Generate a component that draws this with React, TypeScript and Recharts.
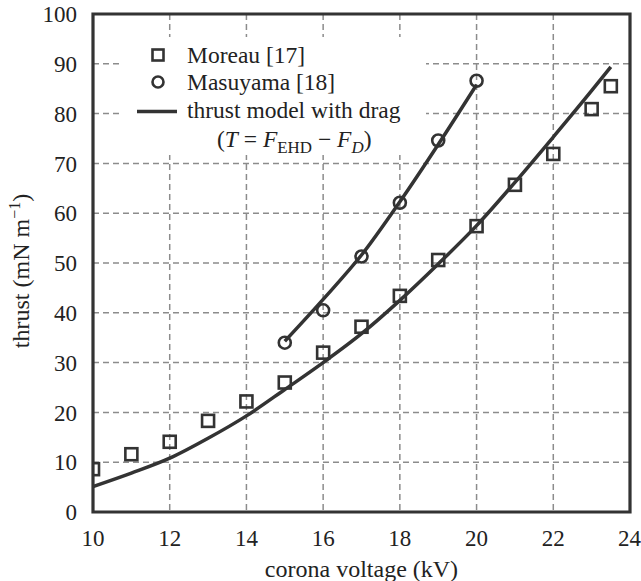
import React from 'react';
import {
  ComposedChart,
  Line,
  Scatter,
  XAxis,
  YAxis,
  CartesianGrid,
  ReferenceArea,
  Legend,
} from 'recharts';

// Moreau [17] measurements
const moreauKV = [10, 11, 12, 13, 14, 15, 16, 17, 18, 19, 20, 21, 22, 23, 23.5];
const moreauThrust = [8.6, 11.6, 14.1, 18.3, 22.2, 26.0, 32.0, 37.2, 43.4, 50.6, 57.4, 65.7, 71.9, 80.9, 85.5];

// Masuyama [18] measurements
const masuyamaKV = [15, 16, 17, 18, 19, 20];
const masuyamaThrust = [34.0, 40.5, 51.3, 62.1, 74.6, 86.6];

// thrust model with drag, fitted to each data set
const modelLowKV = [10, 11, 12, 13, 14, 15, 16, 17, 18, 19, 20, 21, 22, 23, 23.5];
const modelLowThrust = [5.1, 7.8, 10.8, 14.8, 19.3, 24.6, 30.0, 35.8, 42.5, 49.8, 57.5, 66.2, 75.3, 84.6, 89.4];
const modelHighKV = [15, 16, 17, 18, 19, 20];
const modelHighThrust = [34.3, 42.7, 51.6, 62.3, 73.8, 85.8];

const xTicks = [10, 12, 14, 16, 18, 20, 22, 24];
const yTicks = [0, 10, 20, 30, 40, 50, 60, 70, 80, 90, 100];

const zip = (xs: number[], ys: number[]) => xs.map((v, i) => ({ v, t: ys[i] }));

const FONT = '"Liberation Serif", "Times New Roman", serif';
const INK = '#333';

const SquareDot = (props: any) => {
  const { cx, cy } = props;
  if (cx == null || cy == null) return null;
  return <rect x={cx - 6} y={cy - 6} width={12} height={12} fill="none" stroke={INK} strokeWidth={2.6} />;
};

const CircleDot = (props: any) => {
  const { cx, cy } = props;
  if (cx == null || cy == null) return null;
  return <circle cx={cx} cy={cy} r={6} fill="none" stroke={INK} strokeWidth={2.6} />;
};

const LegendBox = () => (
  <div
    style={{
      position: 'relative',
      width: 303,
      height: 118,
      background: '#fff',
      fontFamily: FONT,
      fontSize: 23.5,
      color: '#222',
      lineHeight: '26px',
    }}
  >
    <svg width={303} height={118} style={{ position: 'absolute', left: 0, top: 0 }}>
      <rect x={29.5} y={12.5} width={11} height={11} fill="none" stroke={INK} strokeWidth={2.6} />
      <circle cx={35} cy={45} r={5.5} fill="none" stroke={INK} strokeWidth={2.6} />
      <line x1={14} x2={54} y1={74.5} y2={74.5} stroke={INK} strokeWidth={3.5} />
    </svg>
    <div style={{ position: 'absolute', left: 64, top: 5, whiteSpace: 'nowrap' }}>Moreau [17]</div>
    <div style={{ position: 'absolute', left: 64, top: 32, whiteSpace: 'nowrap' }}>Masuyama [18]</div>
    <div style={{ position: 'absolute', left: 64, top: 60, whiteSpace: 'nowrap' }}>thrust model with drag</div>
    <div style={{ position: 'absolute', left: 94, top: 89, whiteSpace: 'nowrap' }}>
      (<i>T</i> = <i>F</i>
      <sub style={{ fontSize: '0.72em', verticalAlign: '-0.35em' }}>EHD</sub> − <i>F</i>
      <sub style={{ fontSize: '0.72em', verticalAlign: '-0.35em' }}>
        <i>D</i>
      </sub>
      )
    </div>
  </div>
);

const YLabel = () => (
  <text
    transform="translate(29, 271) rotate(-90)"
    textAnchor="middle"
    fontFamily={FONT}
    fontSize={24}
    fill="#222"
  >
    thrust (mN m
    <tspan fontSize={16} dy={-9}>−1</tspan>
    <tspan dy={9}>)</tspan>
  </text>
);

const XLabel = (props: any) => {
  const { viewBox } = props;
  return (
    <text
      x={viewBox.x + viewBox.width / 2}
      y={viewBox.y + 65}
      textAnchor="middle"
      fontFamily={FONT}
      fontSize={24}
      fill="#222"
    >
      corona voltage (kV)
    </text>
  );
};

export default function App() {
  const tickStyle = { fontFamily: FONT, fontSize: 23, fill: '#222' };
  return (
    <div style={{ position: 'absolute', left: 0, top: 0, background: '#fff' }}>
      <ComposedChart width={641} height={581} margin={{ top: 14, right: 11, bottom: 0, left: 0 }}>
        <CartesianGrid stroke="#8c8c8c" strokeWidth={1.5} strokeDasharray="6 4" />
        <XAxis
          type="number"
          dataKey="v"
          domain={[10, 24]}
          ticks={xTicks}
          allowDataOverflow
          height={69}
          axisLine={false}
          tickLine={false}
          tickSize={6}
          tickMargin={12}
          tick={tickStyle}
          label={{ content: <XLabel /> }}
        />
        <YAxis
          type="number"
          domain={[0, 100]}
          ticks={yTicks}
          allowDataOverflow
          width={93}
          axisLine={false}
          tickLine={false}
          tickSize={6}
          tickMargin={10}
          tick={tickStyle}
          label={{ content: <YLabel /> }}
        />
        <ReferenceArea x1={10} x2={24} y1={0} y2={100} fill="none" stroke={INK} strokeWidth={3.2} />
        <Line
          data={zip(modelLowKV, modelLowThrust)}
          dataKey="t"
          type="monotone"
          stroke={INK}
          strokeWidth={3.5}
          dot={false}
          isAnimationActive={false}
        />
        <Line
          data={zip(modelHighKV, modelHighThrust)}
          dataKey="t"
          type="monotone"
          stroke={INK}
          strokeWidth={3.5}
          dot={false}
          isAnimationActive={false}
        />
        <Scatter
          data={zip(moreauKV, moreauThrust)}
          dataKey="t"
          shape={<SquareDot />}
          isAnimationActive={false}
        />
        <Scatter
          data={zip(masuyamaKV, masuyamaThrust)}
          dataKey="t"
          shape={<CircleDot />}
          isAnimationActive={false}
        />
        <Legend
          layout="horizontal"
          align="center"
          verticalAlign="middle"
          content={() => <LegendBox />}
          wrapperStyle={{ left: 123, top: 37, width: 303, height: 118 }}
        />
      </ComposedChart>
    </div>
  );
}
